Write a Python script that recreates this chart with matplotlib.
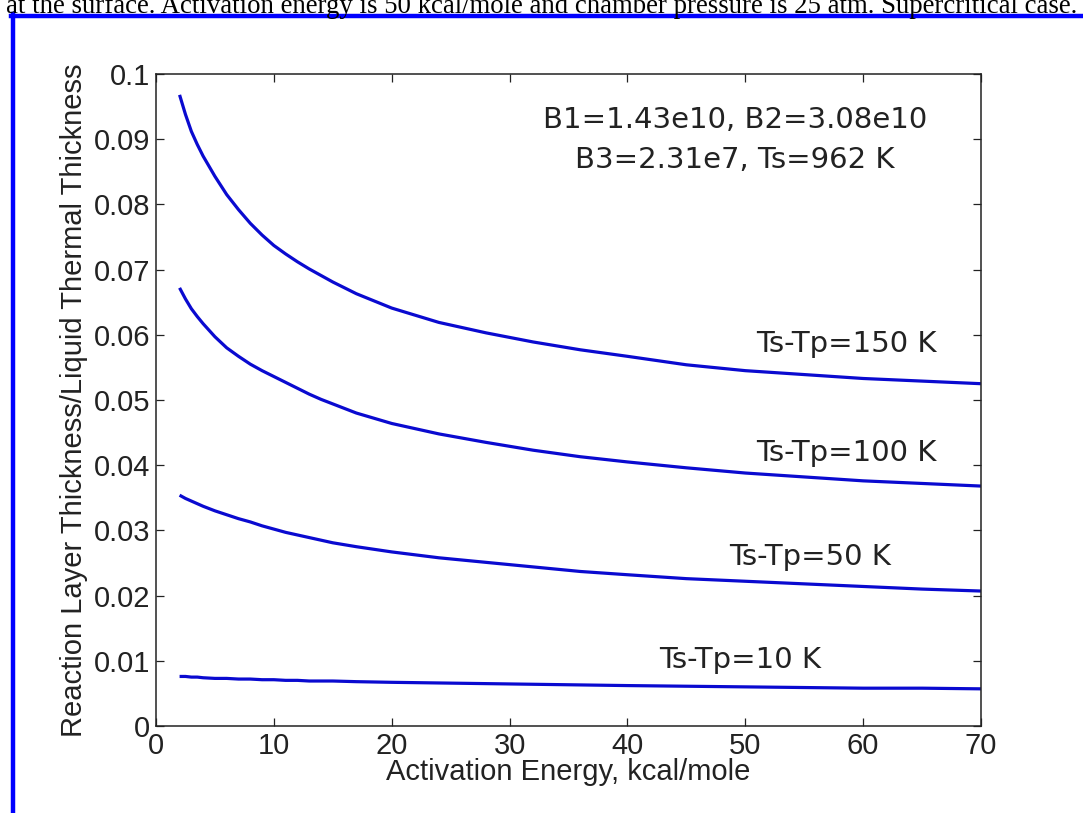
import matplotlib
matplotlib.use("Agg")
import matplotlib.pyplot as plt
from matplotlib.lines import Line2D

# activation energy, kcal/mole
energy = [2, 2.5, 3, 3.5, 4, 5, 6, 7, 8, 9, 10, 11, 12, 13, 14, 15, 17, 20, 24, 28, 32, 36,
          40, 45, 50, 55, 60, 65, 70]

# reaction layer thickness / liquid thermal thickness for each Ts-Tp
dt150 = [0.0968, 0.0938, 0.0912, 0.0892, 0.0874, 0.0843, 0.0815, 0.0792, 0.0771, 0.0753,
         0.0737, 0.0724, 0.0712, 0.0701, 0.0691, 0.0681, 0.0663, 0.0641, 0.0619, 0.0603,
         0.0589, 0.0577, 0.0567, 0.0554, 0.0545, 0.0539, 0.0533, 0.0529, 0.0525]
dt100 = [0.0672, 0.0655, 0.0640, 0.0628, 0.0617, 0.0597, 0.0580, 0.0567, 0.0555, 0.0545,
         0.0536, 0.0527, 0.0518, 0.0509, 0.0501, 0.0494, 0.0480, 0.0464, 0.0448, 0.0435,
         0.0423, 0.0413, 0.0405, 0.0396, 0.0388, 0.0382, 0.0376, 0.0372, 0.0368]
dt50 = [0.0354, 0.0349, 0.0345, 0.0341, 0.0337, 0.0330, 0.0324, 0.0318, 0.0313, 0.0307,
        0.0302, 0.0297, 0.0293, 0.0289, 0.0285, 0.0281, 0.0275, 0.0267, 0.0258, 0.0251,
        0.0244, 0.0237, 0.0232, 0.0226, 0.0222, 0.0218, 0.0214, 0.0210, 0.0207]
dt10 = [0.0076, 0.0076, 0.0075, 0.0075, 0.0074, 0.0073, 0.0073, 0.0072, 0.0072, 0.0071,
        0.0071, 0.0070, 0.0070, 0.0069, 0.0069, 0.0069, 0.0068, 0.0067, 0.0066, 0.0065,
        0.0064, 0.0063, 0.0062, 0.0061, 0.0060, 0.0059, 0.0058, 0.0058, 0.0057]

curve_labels = ["Ts-Tp=150 K", "Ts-Tp=100 K", "Ts-Tp=50 K", "Ts-Tp=10 K"]
label_pos = [(50.9, 0.0586), (50.9, 0.0419), (48.6, 0.0259), (42.7, 0.0101)]

xticks = [0, 10, 20, 30, 40, 50, 60, 70]
yticks = [0, 0.01, 0.02, 0.03, 0.04, 0.05, 0.06, 0.07, 0.08, 0.09, 0.1]
yticklabels = ["0", "0.01", "0.02", "0.03", "0.04", "0.05", "0.06", "0.07", "0.08", "0.09", "0.1"]

W, H = 1083, 813
fig = plt.figure(figsize=(W / 100, H / 100), dpi=100)
ax = fig.add_axes([156 / W, (H - 726) / H, 825 / W, 652 / H])

line_color = "#0a0ad0"
for ys in (dt150, dt100, dt50, dt10):
    ax.plot(energy, ys, color=line_color, lw=2.3, solid_capstyle="butt")

ax.set_xlim(0, 70)
ax.set_ylim(0, 0.1)
ax.set_xticks(xticks)
ax.set_xticklabels([str(v) for v in xticks])
ax.set_yticks(yticks)
ax.set_yticklabels(yticklabels)

for lab in ax.get_xticklabels() + ax.get_yticklabels():
    lab.set_fontfamily("Liberation Sans")
    lab.set_fontsize(21)
    lab.set_color("#222222")
ax.tick_params(direction="in", length=6, width=0.9, top=True, right=True,
               colors="#222222", pad=4)
for sp in ax.spines.values():
    sp.set_linewidth(1.1)
    sp.set_color("#222222")

ax.set_xlabel("Activation Energy, kcal/mole", fontfamily="Liberation Sans",
              fontsize=21, color="#222222", labelpad=-1)
ax.set_ylabel("Reaction Layer Thickness/Liquid Thermal Thickness",
              fontfamily="Liberation Sans", fontsize=21, color="#222222", labelpad=4)

note_font = {"family": "DejaVu Sans", "size": 21, "color": "#222222"}
ax.text(49.1, 0.0929, "B1=1.43e10, B2=3.08e10", ha="center", va="center", **note_font)
ax.text(49.1, 0.0868, "B3=2.31e7, Ts=962 K", ha="center", va="center", **note_font)
for txt, (lx, ly) in zip(curve_labels, label_pos):
    ax.text(lx, ly, txt, ha="left", va="center", **note_font)

# page frame and clipped caption above it
frame = "#0000ff"
fig.add_artist(Line2D([11 / W, 1], [(H - 16) / H, (H - 16) / H],
                      transform=fig.transFigure, color=frame, lw=3.2))
fig.add_artist(Line2D([13 / W, 13 / W], [0, (H - 14) / H],
                      transform=fig.transFigure, color=frame, lw=3.2))
fig.text(1077 / W, (H - 13) / H,
         "at the surface. Activation energy is 50 kcal/mole and chamber pressure is 25 atm. Supercritical case.",
         ha="right", va="baseline", fontfamily="Liberation Serif", fontsize=19.3, color="black")

fig.savefig("out.png", dpi=100)
